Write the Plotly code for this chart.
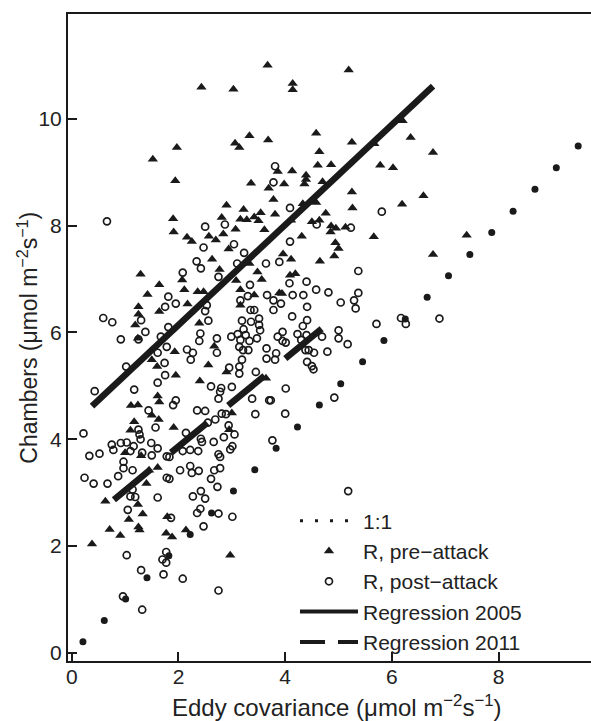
import plotly.graph_objects as go

# ---- data ----
pre_attack = [
    (3.67, 11.0), (2.43, 10.59), (3.03, 10.55), (4.14, 10.66), (4.14, 10.54), (5.19, 10.91), (6.20, 9.96),
    (1.52, 9.24), (1.29, 7.09), (1.64, 6.89), (1.42, 6.71), (1.25, 6.48), (1.25, 6.34), (1.64, 6.39),
    (1.19, 6.14), (1.24, 5.89), (1.50, 5.49), (1.60, 5.36),
    (3.33, 9.68), (3.06, 9.54), (3.14, 9.46), (1.97, 9.46), (3.68, 9.60), (1.94, 8.84), (3.36, 8.79),
    (3.69, 8.70), (2.90, 8.38), (1.90, 8.13), (2.81, 8.15), (3.22, 8.30), (3.16, 8.12), (3.28, 8.11),
    (3.42, 8.16), (3.50, 8.09), (3.54, 8.24), (1.91, 7.88), (3.07, 7.93), (2.16, 7.78), (2.25, 7.70),
    (2.57, 7.80), (2.70, 7.73), (2.84, 7.84), (3.61, 7.92), (2.94, 7.56), (2.63, 7.37), (2.77, 7.18),
    (3.33, 7.29), (3.48, 7.13), (3.08, 6.97), (2.07, 6.98), (2.11, 6.80), (2.36, 6.76), (2.47, 6.76),
    (3.56, 6.99), (3.16, 6.80), (3.42, 6.70), (2.17, 6.53), (3.16, 6.51), (2.39, 6.17), (2.67, 5.74),
    (1.93, 5.64), (2.56, 5.39), (2.90, 5.26), (2.40, 5.09), (1.95, 5.20),
    (4.58, 9.73), (5.25, 9.56), (4.64, 9.38), (4.61, 9.13), (4.86, 9.14), (3.86, 9.01), (4.13, 9.02),
    (4.39, 8.94), (4.39, 8.86), (4.36, 8.78), (3.98, 8.78), (4.70, 8.82), (5.25, 8.63), (3.78, 8.49),
    (4.33, 8.41), (4.58, 8.43), (5.26, 8.33), (3.81, 8.21), (4.76, 8.23), (4.11, 8.10), (4.50, 8.07),
    (4.64, 8.10), (4.86, 7.99), (4.95, 7.95), (4.85, 7.88), (5.13, 7.97), (4.31, 7.80), (4.94, 7.68),
    (5.00, 7.57), (4.92, 7.43), (4.65, 7.33), (3.96, 7.47), (4.11, 7.37), (4.09, 7.07), (4.19, 7.10),
    (3.89, 6.74), (3.94, 6.73),
    (6.35, 9.65), (6.77, 9.37), (5.78, 9.13), (6.02, 9.08), (6.59, 8.56), (6.19, 8.40), (5.66, 7.79),
    (7.40, 7.82), (6.77, 7.46), (5.67, 9.53),
    (1.11, 4.63), (1.24, 4.64), (1.61, 4.81), (1.64, 4.70), (1.50, 4.45), (1.63, 4.37), (1.17, 4.33),
    (1.10, 4.17), (1.30, 3.69), (1.00, 3.75), (1.61, 3.47), (1.40, 3.17), (0.63, 2.84), (1.24, 2.78),
    (1.33, 2.60), (1.07, 2.50), (0.71, 2.31), (0.91, 2.20), (1.25, 2.36), (1.27, 2.30), (0.38, 2.04),
    (1.79, 2.55), (1.77, 2.24),
    (1.91, 4.22), (3.00, 4.49), (2.95, 4.18), (2.14, 2.30), (1.88, 2.17), (2.97, 1.83), (3.64, 5.14),
    (1.45, 3.42),
]

post_attack = [
    (0.66, 8.08), (1.81, 6.67), (1.75, 6.48), (0.59, 6.27), (0.76, 6.19), (1.30, 6.23), (1.38, 6.01),
    (0.92, 5.87), (1.25, 5.87), (1.81, 6.10), (1.67, 5.92), (1.78, 5.73), (1.02, 5.36), (1.61, 5.62),
    (1.74, 5.43), (1.75, 5.20), (1.61, 5.06), (1.17, 4.93), (0.43, 4.90),
    (2.50, 7.98), (2.87, 8.02), (2.47, 7.59), (3.04, 7.65), (3.23, 7.49), (2.34, 7.33), (2.42, 7.20),
    (2.08, 7.12), (2.75, 7.04), (3.10, 7.29), (3.64, 7.29), (3.34, 6.89), (3.30, 6.68), (3.66, 6.70),
    (1.95, 6.54), (2.53, 6.51), (2.50, 6.40), (3.16, 6.60), (3.35, 6.42), (3.42, 6.42), (2.56, 6.22),
    (3.19, 6.22), (3.36, 6.20), (3.51, 6.26), (3.53, 6.04), (3.51, 6.14), (2.41, 5.98), (2.39, 5.84),
    (2.72, 5.89), (2.99, 5.92), (3.11, 5.97), (3.16, 5.86), (3.22, 6.06), (3.26, 5.95), (3.33, 5.84),
    (3.47, 5.89), (3.14, 5.73), (3.21, 5.67), (3.31, 5.67), (3.65, 5.70), (2.16, 5.68), (2.27, 5.62),
    (2.23, 5.49), (2.72, 5.62), (3.19, 5.49), (3.65, 5.51), (2.95, 5.34), (3.14, 5.36), (3.14, 5.23),
    (3.45, 5.26), (2.61, 4.99), (2.80, 4.96), (3.00, 4.98),
    (3.81, 9.11), (3.78, 8.81), (4.09, 8.33), (4.59, 8.02), (5.23, 7.96), (4.09, 7.70), (3.89, 7.32),
    (5.37, 7.15), (4.40, 6.95), (4.08, 6.92), (4.58, 6.80), (4.81, 6.75), (4.14, 6.70), (4.34, 6.70),
    (5.37, 6.74), (3.78, 6.60), (3.92, 6.54), (3.78, 6.42), (5.04, 6.56), (5.29, 6.60), (5.32, 6.45),
    (4.41, 6.48), (4.13, 6.30), (4.41, 6.23), (4.33, 6.12), (3.95, 6.01), (3.86, 5.92), (3.95, 5.84),
    (4.01, 5.81), (4.23, 5.97), (4.40, 5.95), (4.69, 5.92), (5.00, 6.04), (5.00, 5.89), (5.17, 5.78),
    (4.30, 5.86), (4.44, 5.67), (3.83, 5.61), (3.81, 5.49), (4.38, 5.67), (4.54, 5.62), (4.79, 5.64),
    (4.41, 5.45), (4.50, 5.37), (4.53, 5.31), (4.01, 4.95),
    (5.81, 8.26), (6.17, 6.27), (6.26, 6.16), (5.71, 6.16), (6.89, 6.26),
    (1.44, 4.54), (1.57, 4.22), (0.22, 4.11), (1.25, 4.18), (1.27, 4.09), (1.29, 4.00), (0.75, 3.90),
    (0.92, 3.93), (1.03, 3.94), (1.16, 3.87), (1.10, 3.78), (0.78, 3.80), (0.33, 3.69), (0.52, 3.73),
    (0.97, 3.58), (0.97, 3.46), (1.32, 3.75), (1.49, 3.93), (1.61, 3.83), (1.50, 3.70), (1.78, 3.68),
    (0.87, 3.31), (1.14, 3.42), (0.24, 3.28), (0.41, 3.17), (0.67, 3.17), (1.78, 3.28), (1.10, 2.93),
    (1.19, 2.92), (1.14, 3.06), (1.61, 2.91), (1.05, 2.68), (1.03, 1.83), (1.77, 1.89), (1.70, 1.75),
    (1.77, 1.69), (1.72, 1.47), (1.30, 1.55), (0.96, 1.06), (1.32, 0.81),
    (2.78, 4.89), (2.75, 4.76), (1.95, 4.73), (1.90, 4.64), (2.35, 4.54), (2.50, 4.53), (2.81, 4.48),
    (2.89, 4.47), (3.38, 4.76), (3.70, 4.73), (3.44, 4.47), (2.69, 4.37), (2.55, 4.31), (2.94, 4.26),
    (3.05, 4.09), (2.85, 4.04), (2.42, 4.01), (2.44, 3.95), (2.14, 4.12), (2.66, 3.95), (2.08, 3.78),
    (2.22, 3.80), (2.37, 3.78), (3.01, 3.87), (2.97, 3.81), (2.75, 3.72), (2.78, 3.67), (2.03, 3.42),
    (2.22, 3.50), (2.25, 3.37), (2.38, 3.41), (2.67, 3.42), (2.61, 3.26), (2.78, 3.46), (2.73, 3.11),
    (2.42, 3.03), (2.50, 2.89), (2.27, 2.93), (2.41, 2.70), (2.35, 2.62), (2.75, 2.61), (3.01, 2.55),
    (2.47, 2.37), (1.86, 2.53), (2.08, 1.39), (2.75, 1.17), (1.83, 3.67), (1.83, 3.26),
    (4.92, 4.78), (3.73, 4.73), (4.00, 4.48), (3.76, 3.98), (5.18, 3.03),
]

# dots of the 1:1 line (x = y)
one_to_one = [0.21, 0.61, 1.01, 1.41, 1.82, 2.22, 2.62, 3.03, 3.43, 3.83, 4.23, 4.64,
              5.04, 5.45, 5.85, 6.25, 6.66, 7.06, 7.46, 7.87, 8.27, 8.68, 9.08, 9.49]

reg2005_x = [0.38, 6.77]
reg2005_y = [4.62, 10.61]
reg2011_x = [0.79, 4.72]
reg2011_y = [2.87, 6.10]

x_ticks = [0, 2, 4, 6, 8]
y_ticks = [0, 2, 4, 6, 8, 10]

INK = "#1a1a1a"
FONT = "Liberation Sans, Arial, Helvetica, sans-serif"

fig = go.Figure()

fig.add_trace(go.Scatter(
    x=[p[0] for p in post_attack], y=[p[1] for p in post_attack], mode="markers",
    name="R, post\u2212attack", legendrank=3,
    marker=dict(symbol="circle-open", size=7, color=INK, line=dict(width=1.7, color=INK)),
))
fig.add_trace(go.Scatter(
    x=[p[0] for p in pre_attack], y=[p[1] for p in pre_attack], mode="markers",
    name="R, pre\u2212attack", legendrank=2,
    marker=dict(symbol="triangle-up", size=9, color=INK, line=dict(width=0)),
))
fig.add_trace(go.Scatter(
    x=one_to_one, y=one_to_one, mode="markers", showlegend=False,
    marker=dict(symbol="circle", size=7, color=INK, line=dict(width=0)),
))
# legend-only entry for 1:1 (dotted sample)
fig.add_trace(go.Scatter(
    x=[None], y=[None], mode="lines", name="1:1", legendrank=1,
    line=dict(color=INK, width=3, dash="3px,12px"),
))
fig.add_trace(go.Scatter(
    x=reg2005_x, y=reg2005_y, mode="lines", showlegend=False,
    line=dict(color=INK, width=6.5),
))
fig.add_trace(go.Scatter(
    x=[None], y=[None], mode="lines", name="Regression 2005", legendrank=4,
    line=dict(color=INK, width=4),
))
fig.add_trace(go.Scatter(
    x=reg2011_x, y=reg2011_y, mode="lines", showlegend=False,
    line=dict(color=INK, width=6.5, dash="47px,27px"),
))
fig.add_trace(go.Scatter(
    x=[None], y=[None], mode="lines", name="Regression 2011", legendrank=5,
    line=dict(color=INK, width=4, dash="25px,13px"),
))

axis_common = dict(
    showgrid=False, zeroline=False, showline=True, linewidth=2, linecolor=INK,
    ticks="inside", ticklen=9, tickwidth=1.5, tickcolor=INK,
    tickfont=dict(family=FONT, size=21, color="#222"),
)

fig.update_layout(
    width=591, height=721,
    margin=dict(l=68, r=0, t=14, b=60),
    paper_bgcolor="white", plot_bgcolor="white",
    font=dict(family=FONT, color="#222"),
    showlegend=True,
    legend=dict(
        x=0.434, y=0.248, xanchor="left", yanchor="top",
        bgcolor="rgba(0,0,0,0)", borderwidth=0,
        font=dict(family=FONT, size=21, color="#222"),
        itemwidth=58, traceorder="normal",
    ),
    xaxis=dict(range=[-0.07, 9.73], tickvals=x_ticks, mirror=True, ticklabelstandoff=-4,
               **axis_common),
    yaxis=dict(range=[-0.15, 11.96], tickvals=y_ticks, mirror=False, **axis_common),
    annotations=[
        dict(text="Eddy covariance (\u03bcmol m<sup>\u22122</sup>s<sup>\u22121</sup>)",
             xref="paper", yref="paper", x=0.515, y=-0.069, xanchor="center", yanchor="middle",
             showarrow=False, font=dict(family=FONT, size=24, color="#222")),
        dict(text="Chambers (\u03bcmol m<sup>\u22122</sup>s<sup>\u22121</sup>)",
             xref="paper", yref="paper", x=-0.078, y=0.5, xanchor="center", yanchor="middle",
             textangle=-90, showarrow=False, font=dict(family=FONT, size=23, color="#222")),
    ],
)

fig.write_html("out.html")
